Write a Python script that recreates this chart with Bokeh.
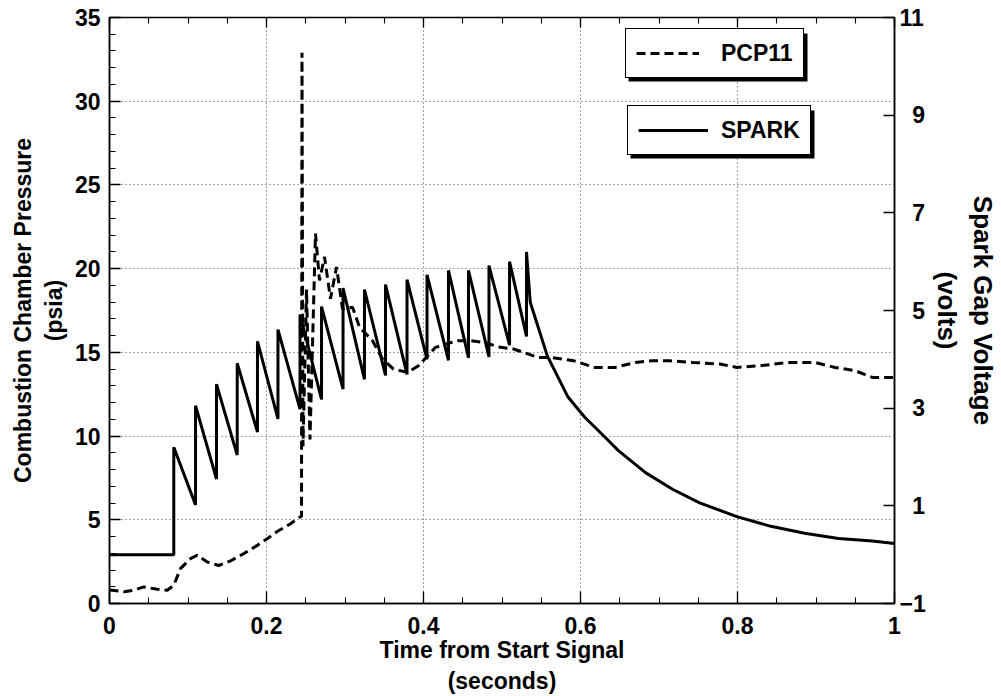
from bokeh.plotting import figure
from bokeh.models import (Range1d, LinearAxis, FixedTicker, CustomJSTickFormatter,
                          Legend, LegendItem, BoxAnnotation)
from bokeh.embed import file_html
from bokeh.resources import INLINE

# ---------------- data ----------------
# SPARK: spark gap voltage (volts, right axis)
spark_time = [0.000, 0.0819, 0.0819,
              0.1096, 0.1096, 0.1363, 0.1363, 0.1627, 0.1627, 0.1885, 0.1885,
              0.2146, 0.2146, 0.2427, 0.2427, 0.2701, 0.2701, 0.2975, 0.2975,
              0.3248, 0.3248, 0.3516, 0.3516, 0.3790, 0.3790, 0.4045, 0.4045,
              0.4318, 0.4318, 0.4573, 0.4573, 0.4834, 0.4834, 0.5096, 0.5096,
              0.5312, 0.5312,
              0.536, 0.5577, 0.5836, 0.6051, 0.6310, 0.6483, 0.6828, 0.7172,
              0.7518, 0.7992, 0.8424, 0.8855, 0.9287, 0.9718, 1.000]
spark_volts = [0.00, 0.00, 2.20,
               1.02, 3.05, 1.55, 3.49, 2.04, 3.92, 2.51, 4.37,
               2.78, 4.61, 2.98, 4.92, 3.18, 5.08, 3.39, 5.46,
               3.59, 5.43, 3.67, 5.53, 3.69, 5.63, 4.00, 5.73,
               3.98, 5.82, 4.03, 5.82, 4.05, 5.92, 4.29, 6.00,
               4.47, 6.20,
               5.17, 4.07, 3.24, 2.82, 2.41, 2.13, 1.68, 1.34,
               1.06, 0.78, 0.58, 0.44, 0.33, 0.28, 0.23]

# PCP11: combustion chamber pressure (psia, left axis)
pcp_time = [0.000, 0.0034, 0.0182, 0.0310, 0.0437, 0.0608, 0.0735, 0.0819, 0.0904,
            0.1032, 0.1117, 0.1245, 0.1392, 0.1541, 0.1711, 0.1882, 0.2009, 0.2136,
            0.2306, 0.2424, 0.2446, 0.2452, 0.2465, 0.2510, 0.2554, 0.2624, 0.2675,
            0.2739, 0.2815, 0.2892, 0.2968, 0.3096, 0.3185, 0.3350, 0.3478, 0.3618,
            0.3796, 0.3936, 0.4153, 0.4433, 0.4599, 0.4764, 0.4981, 0.5146, 0.5274,
            0.5452, 0.5618, 0.5911, 0.6178, 0.6439, 0.6701, 0.6917, 0.7134, 0.7427,
            0.7777, 0.7992, 0.8293, 0.8637, 0.8981, 0.9243, 0.9503, 0.9720, 0.9936,
            1.000]
pcp_psia = [0.80, 0.79, 0.70, 0.79, 0.99, 0.85, 0.79, 1.09, 2.08,
            2.68, 2.88, 2.48, 2.27, 2.54, 2.98, 3.47, 3.87, 4.30,
            4.76, 5.16, 5.20, 32.9, 9.40, 18.75, 9.80, 22.1, 19.3,
            20.7, 18.2, 20.1, 17.6, 17.7, 16.5, 15.7, 14.6, 14.0,
            13.8, 14.2, 15.3, 15.7, 15.7, 15.6, 15.3, 15.2, 15.0,
            14.7, 14.7, 14.5, 14.1, 14.1, 14.4, 14.5, 14.5, 14.4,
            14.3, 14.1, 14.2, 14.4, 14.4, 14.1, 13.9, 13.5, 13.5,
            13.5]

# axes ticks
time_ticks = [0, 0.2, 0.4, 0.6, 0.8, 1.0]
time_minor = [0.05 * i for i in range(21)]
psia_ticks = [0, 5, 10, 15, 20, 25, 30, 35]
psia_minor = list(range(0, 36))
psia_grid = [5, 10, 15, 20, 25, 30]
time_grid = [0.2, 0.4, 0.6, 0.8]
volt_ticks = [-1, 1, 3, 5, 7, 9, 11]

FONT = "Liberation Sans"

p = figure(width=1001, height=696, output_backend="svg", toolbar_location=None,
           x_range=Range1d(0, 1), y_range=Range1d(0, 35),
           min_border_left=109, min_border_right=107, min_border_top=17,
           min_border_bottom=91, background_fill_color="white",
           border_fill_color="white")
p.extra_y_ranges = {"volts": Range1d(-1, 11)}
p.outline_line_color = "black"
p.outline_line_width = 1.5


def style_axis(ax, major_in, minor_in, size="23px"):
    ax.major_tick_in = major_in
    ax.major_tick_out = 0
    ax.minor_tick_in = minor_in
    ax.minor_tick_out = 0
    ax.axis_line_color = "black"
    ax.axis_line_width = 1.5
    ax.major_tick_line_color = "black"
    ax.major_tick_line_width = 1.3
    ax.minor_tick_line_color = "black"
    ax.minor_tick_line_width = 1.1
    ax.major_label_text_font = FONT
    ax.major_label_text_font_style = "bold"
    ax.major_label_text_font_size = size
    ax.major_label_text_color = "black"
    ax.axis_label_text_font = FONT
    ax.axis_label_text_font_style = "bold"
    ax.axis_label_text_color = "black"


# bottom axis
xa = p.xaxis[0]
xa.ticker = FixedTicker(ticks=time_ticks, minor_ticks=time_minor)
xa.formatter = CustomJSTickFormatter(code="return String(Math.round(tick*10)/10);")
style_axis(xa, 12, 6)
xa.major_label_standoff = 13
xa.axis_label = "Time from Start Signal\n(seconds)"
xa.axis_label_text_font_size = "23px"
xa.axis_label_standoff = 0

# left axis
ya = p.yaxis[0]
ya.ticker = FixedTicker(ticks=psia_ticks, minor_ticks=psia_minor)
style_axis(ya, 11, 6)
ya.major_label_standoff = 9
ya.axis_label = "Combustion Chamber Pressure\n(psia)"
ya.axis_label_text_font_size = "23px"
ya.axis_label_standoff = 5

# top edge ticks (no labels): minor ticks and longer major ticks
top_minor = LinearAxis(ticker=FixedTicker(ticks=[], minor_ticks=time_minor))
style_axis(top_minor, 10, 6)
top_minor.axis_line_color = None
p.add_layout(top_minor, "above")
top_major = LinearAxis(ticker=FixedTicker(ticks=[], minor_ticks=time_ticks))
style_axis(top_major, 10, 10)
top_major.axis_line_color = None
top_major.minor_tick_line_width = 1.3
p.add_layout(top_major, "above")

# right axis (volts)
ra = LinearAxis(y_range_name="volts", ticker=FixedTicker(ticks=volt_ticks))
ra.formatter = CustomJSTickFormatter(code="""
const s = String(Math.abs(tick));
if (tick < 0) return "\u2212" + s;
return (s.length < 2 ? "\u2007" : "") + s;
""")
style_axis(ra, 11, 0)
ra.minor_tick_line_color = None
ra.major_label_standoff = 5
ra.axis_label = "Spark Gap Voltage\n(volts)"
ra.axis_label_text_font_size = "26px"
ra.axis_label_standoff = 3
p.add_layout(ra, "right")

# grid
p.xgrid.ticker = FixedTicker(ticks=time_grid)
p.ygrid.ticker = FixedTicker(ticks=psia_grid)
p.xgrid.grid_line_color = "#444444"
p.ygrid.grid_line_color = "#444444"
p.xgrid.grid_line_dash = "1 3"
p.ygrid.grid_line_dash = "1 3"
p.xgrid.grid_line_width = 1
p.ygrid.grid_line_width = 1

# data lines
r_pcp = p.line(pcp_time, pcp_psia, line_color="black", line_width=3,
               line_dash="9 5")
r_spark = p.line(spark_time, spark_volts, y_range_name="volts",
                 line_color="black", line_width=3)


def make_legend(label, rend, loc, glyph_w, standoff):
    return Legend(items=[LegendItem(label=label, renderers=[rend])],
                  location=loc, orientation="vertical",
                  padding=10, margin=0, spacing=0,
                  glyph_width=glyph_w, glyph_height=28, label_height=28,
                  label_standoff=standoff,
                  label_text_font=FONT, label_text_font_style="bold",
                  label_text_font_size="23px",
                  border_line_color="black", border_line_width=1.5,
                  border_line_alpha=1.0,
                  background_fill_color="white", background_fill_alpha=1.0,
                  label_text_color="black")


def shadow(left, bottom, w, h):
    return BoxAnnotation(left=left, right=left + w, bottom=bottom, top=bottom + h,
                         left_units="screen", right_units="screen",
                         bottom_units="screen", top_units="screen",
                         fill_color="black", fill_alpha=1.0, line_color=None)


p.add_layout(shadow(519, 522, 179, 48))
p.add_layout(make_legend("PCP11", r_pcp, (516, 525), 63, 22))
p.add_layout(shadow(521, 445, 184, 48))
p.add_layout(make_legend("SPARK", r_spark, (518, 448), 70, 13))

open("out.html", "w").write(file_html(p, INLINE))
